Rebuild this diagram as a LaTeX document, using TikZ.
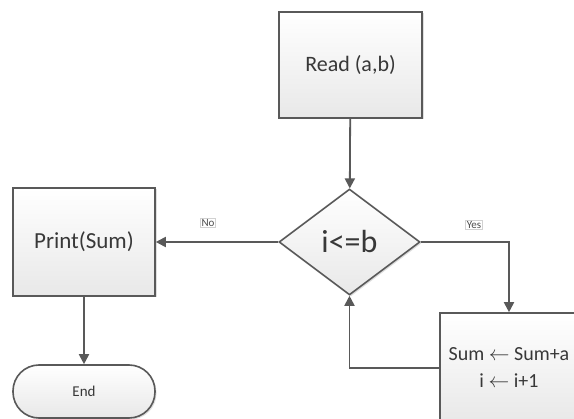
\documentclass[tikz,border=0pt]{standalone}
\usepackage{fontspec}
\setmainfont{Carlito}
\usetikzlibrary{shapes.geometric,shadows,arrows.meta}
\definecolor{edge}{HTML}{595959}
\tikzset{
  box/.style={draw=edge,line width=1.6pt,shading=axis,top color=white,bottom color=black!9,
    drop shadow={opacity=0.25,shadow xshift=1.5pt,shadow yshift=-1.5pt},
    inner sep=0pt,align=center,text=black!78},
  conn/.style={draw=edge,line width=1.8pt,-{Triangle[length=10pt,width=10pt]}},
  lab/.style={draw=black!18,line width=0.8pt,fill=white,inner sep=1.2pt,font=\fontsize{11}{12}\selectfont,text=black!70}
}
\begin{document}
\begin{tikzpicture}[x=1pt,y=-1pt]
\useasboundingbox[fill=white] (0,0) rectangle (574,419);
\node[box,minimum width=143pt,minimum height=106pt,font=\fontsize{22}{26}\selectfont] (read) at (350.5,65) {Read (a,b)};
\node[box,diamond,minimum width=141pt,minimum height=106pt,font=\fontsize{32}{34}\selectfont] (dec) at (349.5,242) {i<=b};
\node[box,minimum width=142pt,minimum height=108pt,font=\fontsize{23}{26}\selectfont] (print) at (84,242) {Print(Sum)};
\node[box,minimum width=138pt,minimum height=110pt,font=\fontsize{20}{27}\selectfont] (proc) at (509,368) {\raisebox{0pt}{Sum $\leftarrow$ Sum+a}\\ i $\leftarrow$ i+1};
\node[box,rounded corners=26pt,minimum width=142pt,minimum height=53pt,font=\fontsize{15}{17}\selectfont] (end) at (84,391.5) {End};
\node[lab] (no) at (208,223) {No};
\node[lab] (yes) at (474,225) {Yes};
\draw[conn] (read) -- (dec);
\draw[conn] (dec.west) -- (print.east);
\draw[conn] (dec.east) -| (proc.north);
\draw[conn] (proc.west) -| (dec.south);
\draw[conn] (print) -- (end);
\end{tikzpicture}
\end{document}
